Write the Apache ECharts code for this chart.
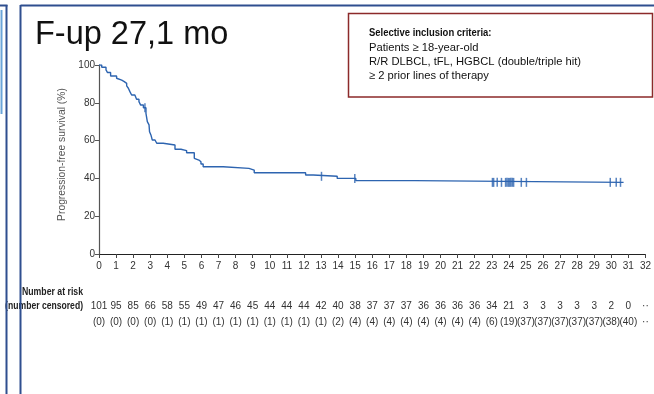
<!DOCTYPE html>
<html>
<head>
<meta charset="utf-8">
<script src="https://cdn.jsdelivr.net/npm/echarts@6/dist/echarts.min.js"></script>
<style>
html,body{margin:0;padding:0;background:#fff;}
#c{width:654px;height:394px;}
</style>
</head>
<body>
<div id="c"></div>
<script>
// ---- data ----
const months = [0, 0.16, 0.41, 0.5, 0.68, 1.03, 1.13, 1.33, 1.48, 1.62, 1.72, 1.81, 1.91, 2.1, 2.2, 2.34, 2.44, 2.6, 2.75, 2.83, 2.93, 2.96, 3.04, 3.12, 3.28, 3.38, 3.76, 4.45, 4.8, 5.13, 5.58, 5.68, 5.85, 5.97, 6.1, 7.27, 8.78, 9.09, 12.1, 12.54, 13.95, 15.04, 18.49, 30.72];
const pfs = [100, 98.8, 97.4, 96, 94.2, 93, 92, 91.2, 90.3, 89, 87.7, 85.9, 84.1, 83.2, 81.9, 80.6, 78.8, 77.4, 74.4, 70, 68.3, 64.7, 63, 60.3, 59.4, 58.6, 57.7, 55.4, 54.7, 53.6, 50.6, 49.7, 48.8, 47.6, 46.2, 45.3, 44.4, 43, 41.8, 41.1, 40, 38.8, 37.9, 37.9];
const censorMonths = [2.69, 13.03, 14.98, 23.04, 23.11, 23.32, 23.57, 23.81, 23.89, 23.97, 24.05, 24.12, 24.2, 24.28, 24.73, 25.03, 29.94, 30.29, 30.54];
const censorPfs = [77.4, 41.1, 40, 37.9, 37.9, 37.9, 37.9, 37.9, 37.9, 37.9, 37.9, 37.9, 37.9, 37.9, 37.9, 37.9, 37.9, 37.9, 37.9];
const atRisk = ['101','95','85','66','58','55','49','47','46','45','44','44','44','42','40','38','37','37','37','36','36','36','36','34','21','3','3','3','3','3','2','0','··'];
const censored = ['(0)','(0)','(0)','(0)','(1)','(1)','(1)','(1)','(1)','(1)','(1)','(1)','(1)','(1)','(2)','(4)','(4)','(4)','(4)','(4)','(4)','(4)','(4)','(6)','(19)','(37)','(37)','(37)','(37)','(37)','(38)','(40)','··'];
const yTicks = [0, 20, 40, 60, 80, 100];
const titleText = 'F-up 27,1 mo';
const boxTitle = 'Selective inclusion criteria:';
const boxLines = ['Patients ≥ 18-year-old', 'R/R DLBCL, tFL, HGBCL (double/triple hit)', '≥ 2 prior lines of therapy'];
const yName = 'Progression-free survival (%)';
const riskTitle = 'Number at risk';
const censTitle = '(number censored)';

const NARROW = '"Liberation Sans Narrow", "Liberation Sans", sans-serif';
const SANS = '"Liberation Sans", Arial, sans-serif';
const BLUE = '#2d64b0';
const DARK = '#2f4f8f';

const chart = echarts.init(document.getElementById('c'), null, {renderer: 'canvas'});

function riskAxis(arr, offset) {
  return {
    type: 'value', min: 0, max: 32, interval: 1, position: 'bottom', offset: offset,
    axisLine: {show: false}, axisTick: {show: false}, splitLine: {show: false},
    axisLabel: {
      show: true, margin: 7, fontSize: 10, fontFamily: NARROW, color: '#333',
      formatter: v => {
        const s = arr[Math.round(v)];
        return s === undefined ? '' : s;
      }
    }
  };
}

const option = {
  animation: false,
  backgroundColor: '#fff',
  grid: {left: 99, right: 8, top: 65, bottom: 140, containLabel: false},
  xAxis: [
    {
      type: 'value', min: 0, max: 32, interval: 1,
      axisLine: {show: true, lineStyle: {color: '#222', width: 1.2}},
      axisTick: {show: true, length: 4, lineStyle: {color: '#444'}},
      splitLine: {show: false},
      axisLabel: {margin: 7, fontSize: 10, fontFamily: NARROW, color: '#333', showMaxLabel: true, showMinLabel: true}
    },
    riskAxis(atRisk, 40),
    riskAxis(censored, 56)
  ],
  yAxis: {
    type: 'value', min: 0, max: 100, interval: 20,
    axisLine: {show: true, lineStyle: {color: '#555', width: 1.2}},
    axisTick: {show: true, length: 4, lineStyle: {color: '#555'}},
    splitLine: {show: false},
    axisLabel: {margin: 4, fontSize: 10, fontFamily: NARROW, color: '#333',
      formatter: v => yTicks.indexOf(v) >= 0 ? String(v) : ''},
    name: yName, nameLocation: 'middle', nameGap: 28, nameRotate: 90,
    nameTextStyle: {fontSize: 10.3, fontFamily: NARROW, color: '#555', padding: [0, 0, 0, 10]}
  },
  series: [
    {
      type: 'line', step: 'end', xAxisIndex: 0, symbol: 'none',
      data: months.map((m, i) => [m, pfs[i]]),
      lineStyle: {color: BLUE, width: 1.4}, silent: true
    },
    {
      type: 'scatter', xAxisIndex: 0, symbol: 'rect', symbolSize: [1.5, 9],
      data: censorMonths.map((m, i) => [m, censorPfs[i]]),
      itemStyle: {color: BLUE}, silent: true
    }
  ],
  graphic: [
    {type: 'text', left: 35, top: 19, style: {text: titleText, font: '32.5px ' + SANS, fill: '#111'}},
    {type: 'rect', shape: {x: 348.5, y: 13.5, width: 304, height: 83.5}, style: {fill: '#fff', stroke: '#8c2a2a', lineWidth: 1.5}, z: 10},
    {type: 'text', x: 369, y: 27.5, z: 11, scaleX: 0.86, style: {text: boxTitle, font: 'bold 11px ' + SANS, fill: '#111'}},
    {type: 'text', x: 369, y: 42, z: 11, style: {text: boxLines[0], font: '11.2px ' + SANS, fill: '#111'}},
    {type: 'text', x: 369, y: 56, z: 11, style: {text: boxLines[1], font: '11.2px ' + SANS, fill: '#111'}},
    {type: 'text', x: 369, y: 70.5, z: 11, style: {text: boxLines[2], font: '11.2px ' + SANS, fill: '#111'}},
    {type: 'text', x: 83, y: 287, scaleX: 0.83, style: {text: riskTitle, font: 'bold 10.5px ' + SANS, fill: '#222', align: 'right', textAlign: 'right'}},
    {type: 'text', x: 83, y: 301, scaleX: 0.86, style: {text: censTitle, font: 'bold 10px ' + SANS, fill: '#222', align: 'right', textAlign: 'right'}},
    // panel borders
    {type: 'line', z: 50, shape: {x1: 1.5, y1: 10, x2: 1.5, y2: 114}, style: {stroke: '#6aa4d8', lineWidth: 2}},
    {type: 'line', z: 50, shape: {x1: 0, y1: 5.5, x2: 7.5, y2: 5.5}, style: {stroke: DARK, lineWidth: 2}},
    {type: 'line', z: 50, shape: {x1: 6.5, y1: 5, x2: 6.5, y2: 394}, style: {stroke: DARK, lineWidth: 2}},
    {type: 'line', z: 50, shape: {x1: 20.5, y1: 5.5, x2: 654, y2: 5.5}, style: {stroke: DARK, lineWidth: 2}},
    {type: 'line', z: 50, shape: {x1: 20.5, y1: 5, x2: 20.5, y2: 394}, style: {stroke: DARK, lineWidth: 2}}
  ]
};
chart.setOption(option);
</script>
</body>
</html>
